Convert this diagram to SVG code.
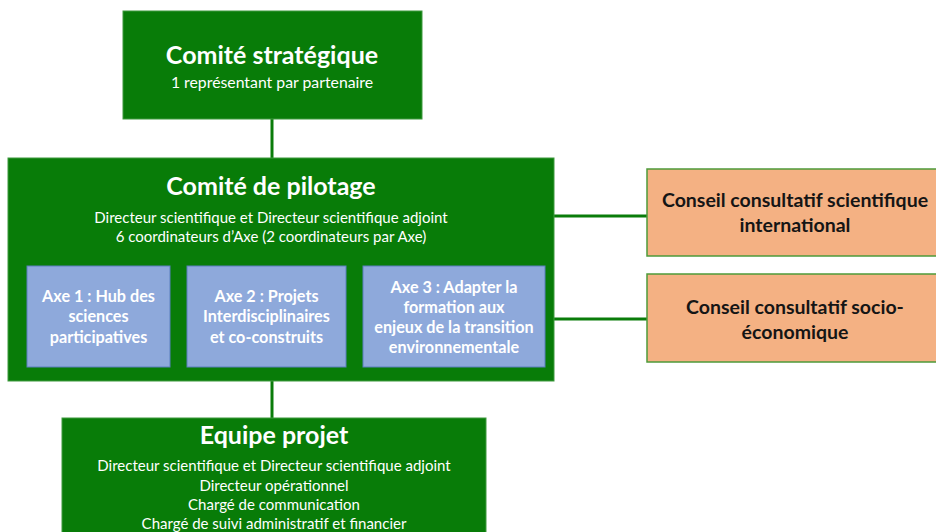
<svg xmlns="http://www.w3.org/2000/svg" width="936" height="532" viewBox="0 0 936 532">
<style>
text{font-family:Lato,"Open Sans","Liberation Sans",sans-serif;text-anchor:middle}
.g{fill:#087C08;stroke:#3E9A3E;stroke-width:1}
.ax{fill:#8EA9DB;stroke:#5B7FBF;stroke-width:1}
.cc{fill:#F4B183;stroke:#4E9A3A;stroke-width:1.5}
.t{fill:#fff;font-weight:bold;font-size:25px}
.s{fill:#fff;font-size:15px}
.a{fill:#fff;font-weight:bold;font-size:16.2px}
.c{fill:#151515;font-weight:bold;font-size:19.5px}
.ln{stroke:#0A7C0A;stroke-width:3;fill:none}
</style>
<rect width="936" height="532" fill="#fff"/>
<g id="connectors">
<line class="ln" x1="272" y1="119" x2="272" y2="158"/>
<line class="ln" x1="272" y1="381" x2="272" y2="418"/>
<line class="ln" x1="554" y1="216" x2="647" y2="216"/>
<line class="ln" x1="554" y1="319" x2="647" y2="319"/>
</g>
<g id="comite-strategique">
<rect class="g" x="123" y="11" width="299" height="108"/>
<text class="t" x="272" y="64">Comité stratégique</text>
<text class="s" x="272" y="88" style="font-size:15.8px">1 représentant par partenaire</text>
</g>
<g id="comite-pilotage">
<rect class="g" x="8" y="158" width="546" height="223"/>
<text class="t" x="271" y="195">Comité de pilotage</text>
<text class="s" x="271" y="223">Directeur scientifique et Directeur scientifique adjoint</text>
<text class="s" x="271" y="242">6 coordinateurs d’Axe (2 coordinateurs par Axe)</text>
</g>
<g id="axe1">
<rect class="ax" x="27" y="266" width="143" height="101"/>
<text class="a" x="98.5" y="302">Axe 1 : Hub des</text>
<text class="a" x="98.5" y="322">sciences</text>
<text class="a" x="98.5" y="343">participatives</text>
</g>
<g id="axe2">
<rect class="ax" x="187" y="266" width="159" height="101"/>
<text class="a" x="266.5" y="302">Axe 2 : Projets</text>
<text class="a" x="266.5" y="322">Interdisciplinaires</text>
<text class="a" x="266.5" y="343">et co-construits</text>
</g>
<g id="axe3">
<rect class="ax" x="363" y="266" width="182" height="101"/>
<text class="a" x="454" y="293">Axe 3 : Adapter la</text>
<text class="a" x="454" y="313">formation aux</text>
<text class="a" x="454" y="333">enjeux de la transition</text>
<text class="a" x="454" y="353">environnementale</text>
</g>
<g id="conseil-scientifique">
<rect class="cc" x="647" y="169" width="296" height="87"/>
<text class="c" x="795" y="207">Conseil consultatif scientifique</text>
<text class="c" x="795" y="232">international</text>
</g>
<g id="conseil-socio">
<rect class="cc" x="647" y="274" width="296" height="88"/>
<text class="c" x="795" y="314">Conseil consultatif socio-</text>
<text class="c" x="795" y="339">économique</text>
</g>
<g id="equipe-projet">
<rect class="g" x="62" y="418" width="424" height="120"/>
<text class="t" x="274" y="444">Equipe projet</text>
<text class="s" x="274" y="471">Directeur scientifique et Directeur scientifique adjoint</text>
<text class="s" x="274" y="491">Directeur opérationnel</text>
<text class="s" x="274" y="510">Chargé de communication</text>
<text class="s" x="274" y="529">Chargé de suivi administratif et financier</text>
</g>
</svg>
